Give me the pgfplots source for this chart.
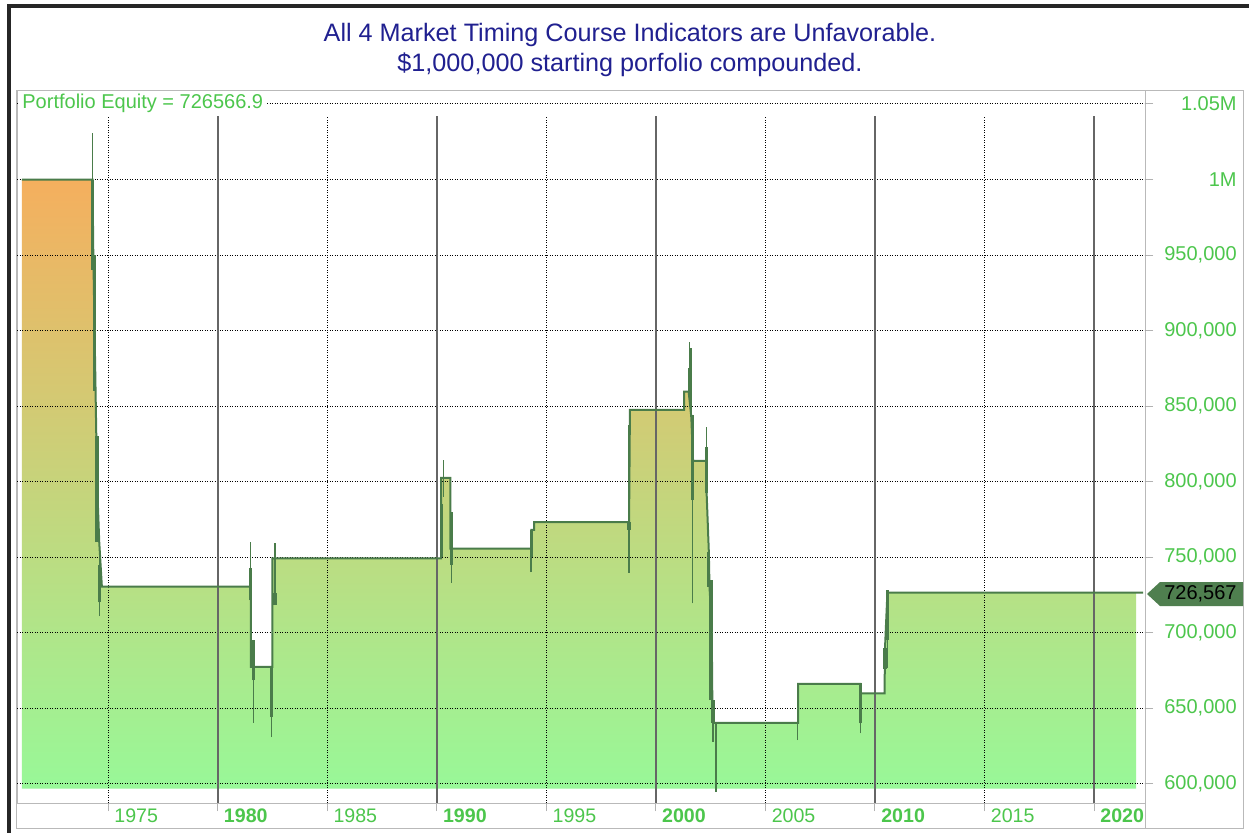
\documentclass[border=0pt]{standalone}
\usepackage{fontspec}
\setmainfont{Liberation Sans}
\usepackage{pgfplots}
\usepackage{pgfplotstable}
\pgfplotsset{compat=1.18}
\definecolor{titleblue}{HTML}{202090}
\definecolor{labelgreen}{HTML}{4CC64C}
\definecolor{linegreen}{HTML}{4A7C4A}
\definecolor{markergreen}{HTML}{4F7F4F}
\definecolor{filltop}{HTML}{F5AF5E}
\definecolor{fillbot}{HTML}{98F898}

% closing equity (step line)
\pgfplotstableread{
x y
1971.07 1000000
1974.30 1000000
1974.32 960000
1974.41 880000
1974.50 800000
1974.60 760000
1974.72 730400
1981.52 730400
1981.52 677400
1982.50 677400
1982.50 749200
1990.20 749200
1990.20 802400
1990.62 802400
1990.62 755600
1994.32 755600
1994.32 768000
1994.45 768000
1994.45 773200
1998.78 773200
1998.82 847500
2001.29 847500
2001.29 859500
2001.50 859500
2001.62 843000
2001.70 813800
2002.30 813800
2002.32 792200
2002.42 753600
2002.45 730500
2002.55 705000
2002.58 655400
2002.63 640200
2006.49 640200
2006.49 666100
2009.34 666100
2009.34 659800
2010.44 659800
2010.46 689600
2010.57 726567
2022.24 726567
}\equity

% same outline closed down to the base of the area
\pgfplotstableread{
x y
1971.07 1000000
1974.30 1000000
1974.32 960000
1974.41 880000
1974.50 800000
1974.60 760000
1974.72 730400
1981.52 730400
1981.52 677400
1982.50 677400
1982.50 749200
1990.20 749200
1990.20 802400
1990.62 802400
1990.62 755600
1994.32 755600
1994.32 768000
1994.45 768000
1994.45 773200
1998.78 773200
1998.82 847500
2001.29 847500
2001.29 859500
2001.50 859500
2001.62 843000
2001.70 813800
2002.30 813800
2002.32 792200
2002.42 753600
2002.45 730500
2002.55 705000
2002.58 655400
2002.63 640200
2006.49 640200
2006.49 666100
2009.34 666100
2009.34 659800
2010.44 659800
2010.46 689600
2010.57 726567
2021.92 726567
2021.92 596700
1971.07 596700
}\equityfill

% intra-trade high/low bars, thin
\pgfplotstableread{
x y
1974.30 1000000
1974.30 1030800
1974.30 nan
1974.62 711000
1974.62 760000
1974.62 nan
1981.51 730400
1981.51 760200
1981.51 nan
1981.63 640200
1981.63 677400
1981.63 nan
1982.47 630900
1982.47 677400
1982.47 nan
1982.62 718200
1982.62 759300
1982.62 nan
1990.30 790000
1990.30 814300
1990.30 nan
1990.68 733000
1990.68 760000
1990.68 nan
1994.30 740100
1994.30 756000
1994.30 nan
1998.78 739500
1998.78 837500
1998.78 nan
2001.53 856200
2001.53 892600
2001.53 nan
2001.61 843000
2001.61 888400
2001.61 nan
2001.69 719400
2001.69 844200
2001.69 nan
2002.32 792200
2002.32 835900
2002.32 nan
2002.61 627800
2002.61 655400
2002.61 nan
2002.75 594700
2002.75 640200
2002.75 nan
2006.47 628900
2006.47 645000
2006.47 nan
2009.35 633300
2009.35 666400
2009.35 nan
2010.46 676100
2010.46 690000
2010.46 nan
2010.59 676600
2010.59 728200
}\spikesthin

% thick parts of the bars
\pgfplotstableread{
x y
1974.31 940000
1974.31 1000000
1974.31 nan
1974.40 860000
1974.40 950000
1974.40 nan
1974.50 760000
1974.50 830000
1974.50 nan
1974.62 720000
1974.62 745000
1974.62 nan
1981.50 721600
1981.50 742800
1981.50 nan
1981.63 668600
1981.63 695100
1981.63 nan
1982.47 644200
1982.47 677400
1982.47 nan
1982.62 718200
1982.62 726000
1982.62 nan
1990.22 750000
1990.22 785000
1990.22 nan
1990.68 745000
1990.68 780000
1990.68 nan
1994.31 750000
1994.31 768000
1994.31 nan
1998.78 768000
1998.78 773200
1998.78 nan
2001.53 856200
2001.53 875000
2001.53 nan
2001.69 787800
2001.69 844200
2001.69 nan
2002.32 792200
2002.32 822900
2002.32 nan
2002.42 730500
2002.42 753600
2002.42 nan
2002.52 655400
2002.52 735000
2002.52 nan
2002.61 640200
2002.61 655400
2002.61 nan
2009.35 640000
2009.35 666400
2009.35 nan
2010.46 676100
2010.46 689600
2010.46 nan
2010.59 695300
2010.59 728200
}\spikesthick

\begin{document}
\begin{tikzpicture}
% frame and title, in pixel units of the reference
\begin{scope}[x=0.5bp,y=-0.5bp]
  \path[use as bounding box] (0,0) rectangle (1249,833);
  \fill[white] (0,0) rectangle (1249,833);
  \fill[black!85] (7,4) rectangle (1249,8);
  \fill[black!85] (7,4) rectangle (11,833);
  \draw[gray!55, line width=0.5bp] (16,90) rectangle (1243,828);
  \draw[gray!55, line width=0.5bp] (1145,803) -- (1145,828);
  \node[text=titleblue, font=\fontsize{12.6bp}{15bp}\selectfont] at (630,35)
    {All 4 Market Timing Course Indicators are Unfavorable.};
  \node[text=titleblue, font=\fontsize{12.6bp}{15bp}\selectfont] at (630,65)
    {\$1,000,000 starting porfolio compounded.};
\end{scope}

\begin{axis}[
  at={(8.5bp,-401.5bp)}, anchor=south west,
  scale only axis, width=564bp, height=356.5bp,
  xmin=1970.847, xmax=2022.328,
  ymin=587195, ymax=1059256,
  axis line style={gray!55, line width=0.5bp},
  xtick={1975,1980,1985,1990,1995,2000,2005,2010,2015,2020},
  xticklabels={1975,\textbf{1980},1985,\textbf{1990},1995,\textbf{2000},2005,\textbf{2010},2015,\textbf{2020}},
  ytick={600000,650000,700000,750000,800000,850000,900000,950000,1000000,1050000},
  yticklabels={{600,000},{650,000},{700,000},{750,000},{800,000},{850,000},{900,000},{950,000},{1M},{1.05M}},
  scaled y ticks=false, scaled x ticks=false,
  xtick pos=bottom, ytick pos=right, yticklabel pos=right,
  tick align=outside, major tick length=4bp,
  tick style={gray!60, line width=0.5bp},
  xticklabel style={anchor=west, inner sep=0pt, xshift=3bp, yshift=-2.5bp,
    text=labelgreen, font=\fontsize{9.8bp}{11bp}\selectfont},
  yticklabel style={anchor=east, inner sep=0pt, xshift=42bp,
    text=labelgreen, font=\fontsize{10bp}{12bp}\selectfont},
  /pgf/number format/assume math mode=true,
]
\addplot[draw=none, top color=filltop, bottom color=fillbot] table {\equityfill};

\pgfplotsinvokeforeach{600000,650000,700000,750000,800000,850000,900000,950000,1000000,1050000}{
  \draw[black, line width=0.5bp, dash pattern=on 0.5bp off 0.75bp]
    (axis cs:1970.847,#1) -- (axis cs:2022.328,#1);
}
\pgfplotsinvokeforeach{1975,1985,1995,2005,2015}{
  \draw[black, line width=0.5bp, dash pattern=on 0.5bp off 0.75bp]
    (axis cs:#1,587195) -- (axis cs:#1,1042042);
}
\pgfplotsinvokeforeach{1980,1990,2000,2010,2020}{
  \draw[black!60, line width=1bp]
    (axis cs:#1,587195) -- (axis cs:#1,1042042);
}

\addplot[linegreen, line width=1bp, mark=none] table {\equity};
\addplot[linegreen, line width=0.6bp, mark=none, unbounded coords=jump] table {\spikesthin};
\addplot[linegreen, line width=1.6bp, mark=none, unbounded coords=jump] table {\spikesthick};
\end{axis}

\begin{scope}[x=0.5bp,y=-0.5bp]
  \node[anchor=west, fill=white, inner xsep=2bp, inner ysep=0.5bp, text=labelgreen,
    font=\fontsize{10bp}{12bp}\selectfont] at (18,103) {Portfolio Equity = 726566.9};
  \fill[markergreen] (1147,594) -- (1160,582) -- (1243,582) -- (1243,606) -- (1160,606) -- cycle;
  \node[anchor=east, inner sep=0pt, font=\fontsize{10bp}{12bp}\selectfont] at (1237,594) {726,567};
\end{scope}
\end{tikzpicture}
\end{document}
